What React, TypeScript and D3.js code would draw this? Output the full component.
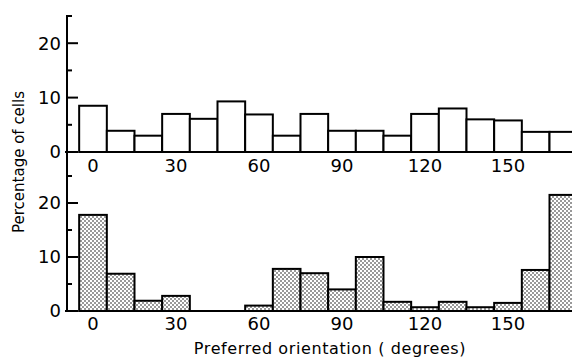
import React from 'react';
import * as d3 from 'd3';

// bin centres (degrees), 10 degree bins
const bins = [0, 10, 20, 30, 40, 50, 60, 70, 80, 90, 100, 110, 120, 130, 140, 150, 160, 170];
// upper histogram (open bars)
const topValues = [8.5, 3.9, 3, 7, 6.1, 9.3, 6.9, 3, 7, 3.9, 3.9, 3, 7, 8, 6, 5.8, 3.7, 3.7];
// lower histogram (stippled bars)
const bottomValues = [17.8, 6.9, 1.9, 2.8, 0, 0, 1, 7.8, 7, 4, 10, 1.7, 0.7, 1.7, 0.7, 1.5, 7.6, 21.5];
const xTicks = [0, 30, 60, 90, 120, 150];
const yMajor = [0, 10, 20];
const yMinor = [5, 15, 25];

const W = 572;
const H = 358;
const font = '"DejaVu Sans", sans-serif';

const x = d3.scaleLinear().domain([0, 150]).range([93, 508]);
const yTop = d3.scaleLinear().domain([0, 25]).range([152, 16]);
const yBot = d3.scaleLinear().domain([0, 25]).range([311, 176]);
const axisX = 67;

function Panel({ values, y, fill, labelY }: { values: number[]; y: d3.ScaleLinear<number, number>; fill: string; labelY: number }) {
  return (
    <g>
      {yMajor.map(t => (
        <g key={'M' + t}>
          <line x1={t === 0 ? axisX - 2 : axisX} x2={axisX + 11} y1={y(t)} y2={y(t)} stroke="#000" strokeWidth={2} />
          <text x={61} y={y(t)} dy="0.36em" textAnchor="end" fontSize={18} fontFamily={font}>{t}</text>
        </g>
      ))}
      {yMinor.map(t => (
        <line key={'m' + t} x1={axisX} x2={axisX + 5} y1={y(t)} y2={y(t)} stroke="#000" strokeWidth={2} />
      ))}
      <line x1={x(-5)} x2={W} y1={y(0)} y2={y(0)} stroke="#000" strokeWidth={2} />
      {bins.map((b, i) => (
        <rect key={b} x={x(b - 5)} width={x(b + 5) - x(b - 5)} y={y(values[i])} height={y(0) - y(values[i])}
          fill={fill} stroke="#000" strokeWidth={2} />
      ))}
      {xTicks.map(t => (
        <text key={'x' + t} x={x(t)} y={labelY} textAnchor="middle" fontSize={18} fontFamily={font}>{t}</text>
      ))}
    </g>
  );
}

export default function App() {
  return (
    <svg width={W} height={H} style={{ position: 'absolute', left: 0, top: 0, background: '#fff' }}>
      <defs>
        <pattern id="dots" width={4} height={4} patternUnits="userSpaceOnUse">
          <rect width={4} height={4} fill="#fff" />
          <circle cx={1} cy={1} r={0.75} fill="#000" />
          <circle cx={3} cy={3} r={0.75} fill="#000" />
        </pattern>
      </defs>
      <line x1={axisX} x2={axisX} y1={15} y2={312} stroke="#000" strokeWidth={2} />
      <Panel values={topValues} y={yTop} fill="#fff" labelY={172} />
      <Panel values={bottomValues} y={yBot} fill="url(#dots)" labelY={330} />
      <text transform="translate(24,162) rotate(-90)" textAnchor="middle" fontSize={15} fontFamily={font}>Percentage of cells</text>
      <text x={330} y={354} textAnchor="middle" fontSize={16} letterSpacing={0.6} fontFamily={font}>Preferred orientation ( degrees)</text>
    </svg>
  );
}
